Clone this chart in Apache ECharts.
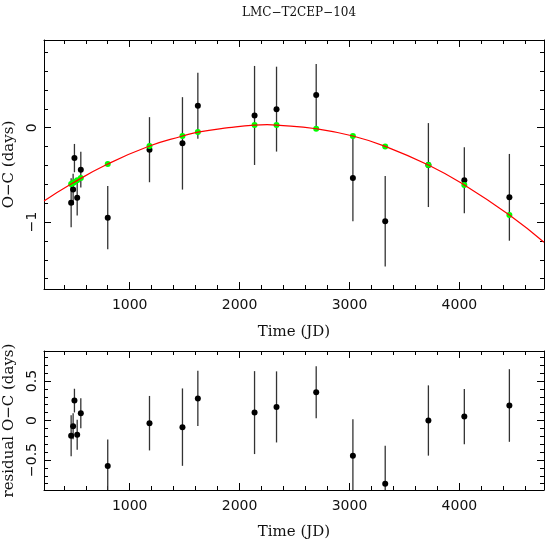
<!DOCTYPE html>
<html lang="en">
<head>
    <meta charset="utf-8">
    <script type="text/javascript" src="https://cdn.jsdelivr.net/npm/echarts@6/dist/echarts.min.js"></script>
</head>
<body style="margin: 0; background: #fff">
<div id="container" style="width:546px;height:542px"></div>

<script type="text/javascript">
    var jd = [467, 485, 497, 522, 555, 800, 1180, 1480, 1620, 2136, 2336, 2697, 3031, 3325, 3718, 4045, 4455];
    var oc = [-0.795, -0.654, -0.322, -0.742, -0.445, -0.954, -0.233, -0.166, 0.233, 0.13, 0.197, 0.346, -0.533, -0.992, -0.396, -0.558, -0.738];
    var err = [0.26, 0.165, 0.15, 0.19, 0.19, 0.335, 0.345, 0.49, 0.35, 0.525, 0.45, 0.33, 0.46, 0.48, 0.445, 0.35, 0.46];
    // fitted value at each observation (green dots)
    var fit = [-0.597, -0.585, -0.575, -0.558, -0.533, -0.385, -0.194, -0.088, -0.046, 0.028, 0.028, -0.011, -0.088, -0.198, -0.396, -0.607, -0.925];
    // residuals, lower panel
    var resid = [-0.194, -0.072, 0.252, -0.181, 0.092, -0.576, -0.034, -0.084, 0.28, 0.10, 0.172, 0.357, -0.445, -0.80, 0.0, 0.05, 0.19];
    // red fit curve, points read along it
    var curveJd = [220, 467, 800, 1180, 1480, 1620, 1900, 2136, 2250, 2336, 2697, 3031, 3325, 3718, 4045, 4455, 4770];
    var curveOc = [-0.777, -0.597, -0.385, -0.194, -0.088, -0.046, 0.0, 0.028, 0.032, 0.028, -0.011, -0.088, -0.198, -0.396, -0.607, -0.925, -1.215];

    var dom = document.getElementById("container");
    var myChart = echarts.init(dom);

    var minus = function (v) { return String(v).replace('-', '\u2212'); };
    var serif = 'DejaVu Serif';
    var sans = 'DejaVu Sans';

    function zip(a, b) {
        return a.map(function (v, i) { return [v, b[i]]; });
    }
    function bars(vals) {
        return jd.map(function (x, i) { return [x, vals[i] - err[i], vals[i] + err[i]]; });
    }
    function errRender(params, api) {
        var p1 = api.coord([api.value(0), api.value(1)]);
        var p2 = api.coord([api.value(0), api.value(2)]);
        return {
            type: 'line',
            shape: {x1: p1[0], y1: p1[1], x2: p2[0], y2: p2[1]},
            style: {stroke: '#333', lineWidth: 1.3}
        };
    }

    function xAx(grid, top, gap) {
        return {
            type: 'value', gridIndex: grid, min: 220, max: 4770,
            minInterval: 1000, maxInterval: 1000, splitNumber: 5,
            position: top ? 'top' : 'bottom',
            name: top ? '' : 'Time (JD)', nameLocation: 'middle', nameGap: gap,
            nameTextStyle: {fontFamily: serif, fontSize: 15, color: '#111'},
            axisLine: {show: true, onZero: false, lineStyle: {color: '#000', width: 1}},
            axisTick: {show: true, inside: true, length: 7, lineStyle: {color: '#000'}},
            minorTick: {show: true, splitNumber: 5, length: 4, lineStyle: {color: '#000'}},
            axisLabel: {show: !top, showMinLabel: false, showMaxLabel: false, margin: 9,
                fontFamily: sans, fontSize: 14, color: '#111',
                formatter: function (v) { return String(v); }},
            splitLine: {show: false}
        };
    }
    function yAx(grid, right, min, max, step, name, gap) {
        return {
            type: 'value', gridIndex: grid, min: min, max: max,
            minInterval: step, maxInterval: step,
            position: right ? 'right' : 'left',
            name: right ? '' : name, nameLocation: 'middle', nameGap: gap,
            nameTextStyle: {fontFamily: serif, fontSize: 15, color: '#111'},
            axisLine: {show: true, onZero: false, lineStyle: {color: '#000', width: 1}},
            axisTick: {show: true, inside: true, length: 7, lineStyle: {color: '#000'}},
            minorTick: {show: true, splitNumber: 5, length: 4, lineStyle: {color: '#000'}},
            axisLabel: {show: !right, rotate: 90, showMinLabel: false, showMaxLabel: false, margin: 5,
                fontFamily: sans, fontSize: 14, color: '#111', formatter: minus},
            splitLine: {show: false}
        };
    }

    var option = {
        animation: false,
        title: {
            text: 'LMC\u2212T2CEP\u2212104', left: 294, top: 2, textAlign: 'center',
            textStyle: {fontFamily: serif, fontSize: 12, fontWeight: 'normal', color: '#111'}
        },
        grid: [
            {left: 44, top: 40, width: 500, height: 249, outerBoundsMode: 'none'},
            {left: 44, top: 351, width: 500, height: 139, outerBoundsMode: 'none'}
        ],
        xAxis: [xAx(0, false, 36), xAx(0, true, 0), xAx(1, false, 35), xAx(1, true, 0)],
        yAxis: [
            yAx(0, false, -1.71, 0.93, 1, 'O\u2212C (days)', 27),
            yAx(0, true, -1.71, 0.93, 1, '', 0),
            yAx(1, false, -0.88, 0.88, 0.5, 'residual O\u2212C (days)', 27),
            yAx(1, true, -0.88, 0.88, 0.5, '', 0)
        ],
        series: [
            {
                type: 'custom', xAxisIndex: 0, yAxisIndex: 0, clip: true,
                renderItem: errRender, encode: {x: 0, y: [1, 2]}, data: bars(oc)
            },
            {
                type: 'line', xAxisIndex: 0, yAxisIndex: 0, data: zip(curveJd, curveOc),
                smooth: true, showSymbol: false, lineStyle: {color: '#ff0000', width: 1.2}
            },
            {
                type: 'scatter', xAxisIndex: 0, yAxisIndex: 0, data: zip(jd, oc),
                symbolSize: 6, itemStyle: {color: '#000', opacity: 1}
            },
            {
                type: 'scatter', xAxisIndex: 0, yAxisIndex: 0, data: zip(jd, fit),
                symbolSize: 6, itemStyle: {color: '#00ff00', opacity: 1}
            },
            {
                type: 'custom', xAxisIndex: 2, yAxisIndex: 2, clip: true,
                renderItem: errRender, encode: {x: 0, y: [1, 2]}, data: bars(resid)
            },
            {
                type: 'scatter', xAxisIndex: 2, yAxisIndex: 2, data: zip(jd, resid),
                symbolSize: 6, itemStyle: {color: '#000', opacity: 1}
            }
        ]
    };

    myChart.setOption(option);
</script>
</body>
</html>
